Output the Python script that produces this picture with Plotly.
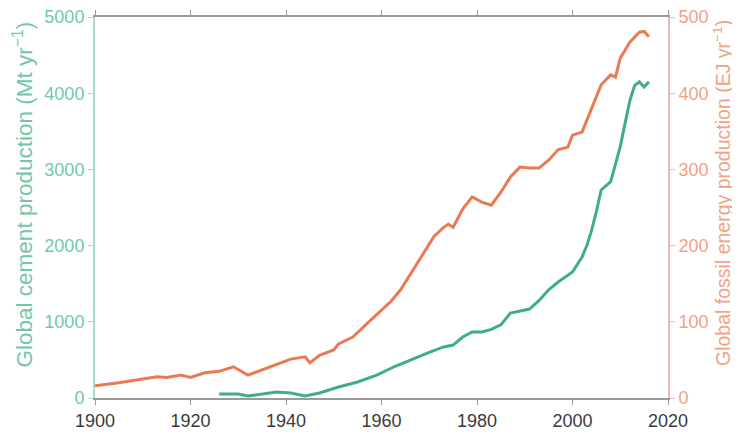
import plotly.graph_objects as go

# Global fossil energy production (EJ/yr)
energy_years = [1900, 1905, 1910, 1913, 1915, 1918, 1920, 1923, 1926, 1929, 1932, 1935,
                1939, 1941, 1944, 1945, 1947, 1950, 1951, 1954, 1957, 1960, 1962, 1964,
                1967, 1969, 1971, 1973, 1974, 1975, 1977, 1979, 1981, 1983, 1985, 1987,
                1989, 1991, 1993, 1995, 1997, 1999, 2000, 2002, 2004, 2006, 2008, 2009,
                2010, 2012, 2014, 2015, 2016]
energy_values = [16, 20, 25, 28, 27, 30, 27, 33, 35, 41, 30, 37,
                 47, 51, 54, 46, 56, 63, 71, 80, 98, 115, 127, 142,
                 172, 192, 212, 224, 228, 224, 248, 264, 257, 253, 270, 290,
                 303, 302, 302, 312, 326, 329, 345, 349, 381, 411, 424, 421,
                 446, 467, 480, 481, 474]

# Global cement production (Mt/yr)
cement_years = [1926, 1930, 1932, 1935, 1938, 1941, 1944, 1947, 1951, 1955, 1959, 1963,
                1966, 1970, 1973, 1975, 1977, 1979, 1981, 1983, 1985, 1987, 1991, 1993,
                1995, 1997, 2000, 2002, 2003, 2004, 2005, 2006, 2008, 2010, 2011, 2012,
                2013, 2014, 2015, 2016]
cement_values = [52, 52, 26, 55, 79, 66, 26, 66, 144, 210, 300, 420,
                 499, 600, 670, 695, 800, 866, 866, 900, 960, 1115, 1168, 1280,
                 1420, 1522, 1654, 1850, 2000, 2200, 2450, 2730, 2840, 3300, 3600, 3900,
                 4100, 4150, 4080, 4150]

x_ticks = [1900, 1920, 1940, 1960, 1980, 2000, 2020]
left_ticks = [0, 1000, 2000, 3000, 4000, 5000]
right_ticks = [0, 100, 200, 300, 400, 500]

left_title = "Global cement production (Mt yr<sup>−1</sup>)"
right_title = "Global fossil energy production (EJ yr<sup>−1</sup>)"

GREEN = "#3fae88"
ORANGE = "#ea7a52"
GREEN_TXT = "#72c7a9"
ORANGE_TXT = "#f0a285"
FONT = "Liberation Sans, Arial, sans-serif"

fig = go.Figure()
fig.add_trace(go.Scatter(x=cement_years, y=cement_values, mode="lines",
                         line=dict(color=GREEN, width=3), yaxis="y", showlegend=False))
fig.add_trace(go.Scatter(x=energy_years, y=energy_values, mode="lines",
                         line=dict(color=ORANGE, width=3), yaxis="y2", showlegend=False))

fig.update_layout(
    width=732, height=431,
    margin=dict(l=87, r=72, t=9, b=41, autoexpand=False),
    paper_bgcolor="white", plot_bgcolor="white",
    font=dict(family=FONT, size=18),
    xaxis=dict(range=[1900, 2020], tickvals=x_ticks, showgrid=False, zeroline=False,
               showline=True, linecolor="#9a9a9a", linewidth=2, mirror="ticks",
               ticks="outside", ticklen=5, tickcolor="#9a9a9a", tickwidth=1,
               automargin=False, ticklabeloverflow="allow",
               tickfont=dict(color="#3a3a3a", size=18)),
    yaxis=dict(range=[0, 5000], tickvals=left_ticks, showgrid=False, zeroline=False,
               showline=True, linecolor="#a8dcc8", linewidth=2,
               ticks="outside", ticklen=5, tickcolor="#a8dcc8", automargin=False,
               ticklabeloverflow="allow",
               tickfont=dict(color=GREEN_TXT, size=18)),
    yaxis2=dict(range=[0, 500], tickvals=right_ticks, overlaying="y", side="right",
                showgrid=False, zeroline=False,
                showline=True, linecolor="#f0b8b8", linewidth=2, automargin=False,
                ticks="outside", ticklen=5, tickcolor="#f0b8b8",
                ticklabeloverflow="allow",
                tickfont=dict(color=ORANGE_TXT, size=18)),
    annotations=[
        dict(text=left_title, textangle=-90, xref="paper", yref="paper",
             x=-0.1265, y=0.533, xanchor="center", yanchor="middle", showarrow=False,
             font=dict(color=GREEN_TXT, size=22.5)),
        dict(text=right_title, textangle=-90, xref="paper", yref="paper",
             x=1.0942, y=0.538, xanchor="center", yanchor="middle", showarrow=False,
             font=dict(color=ORANGE_TXT, size=19.5)),
    ],
)

fig.write_html("out.html")
